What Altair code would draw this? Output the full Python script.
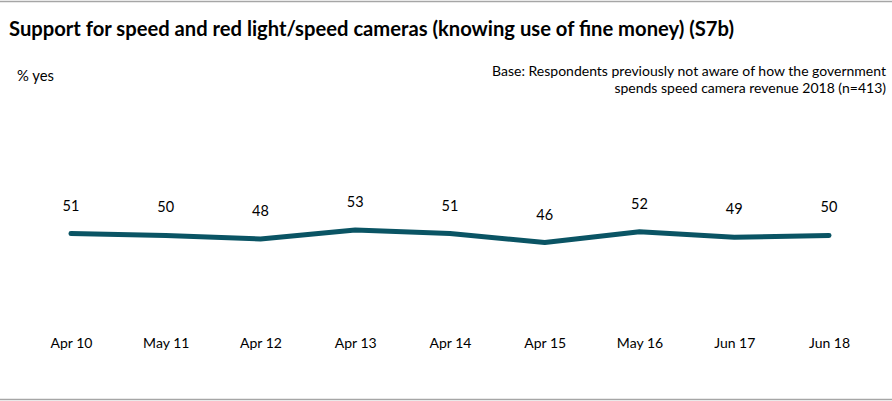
import altair as alt
import pandas as pd

periods = ["Apr 10", "May 11", "Apr 12", "Apr 13", "Apr 14", "Apr 15", "May 16", "Jun 17", "Jun 18"]
values = [51, 50, 48, 53, 51, 46, 52, 49, 50]
title_text = "Support for speed and red light/speed cameras (knowing use of fine money) (S7b)"
y_label = "% yes"
base_lines = [
    "Base: Respondents previously not aware of how the government",
    "spends speed camera revenue 2018 (n=413)",
]

FONT = "Lato"
LINE_COLOR = "#0a5464"
RULE_COLOR = "#a6a6a6"

df = pd.DataFrame({"period": periods, "value": values})

PL, PT = 23.6, 145.4
W, H = 852.8, 180
PR = 892 - PL - W
PB = 401 - PT - H

x_axis = alt.X(
    "period:N", sort=periods,
    scale=alt.Scale(type="point", padding=0.5),
    axis=alt.Axis(title=None, domain=False, ticks=False, labelAngle=0, labelFont=FONT,
                  labelFontSize=14, labelColor="#000000", labelPadding=18, grid=False,
                  labelBaseline="middle"),
)
y_enc = alt.Y("value:Q", scale=alt.Scale(domain=[0, 100]), axis=None)

base = alt.Chart(df)
line = base.mark_line(color=LINE_COLOR, strokeWidth=5, strokeCap="round", strokeJoin="round").encode(
    x=x_axis, y=y_enc)
labels = base.mark_text(dy=-27, font=FONT, fontSize=14.5, color="#000000", baseline="middle").encode(
    x=x_axis, y=y_enc, text="value:Q")

one = pd.DataFrame({"k": [0]})


def txt(s, xpx, ypx, **kw):
    return alt.Chart(one).mark_text(font=FONT, baseline="middle", color="#000000", **kw).encode(
        x=alt.value(xpx - PL), y=alt.value(ypx - PT), text=alt.value(s))


def hrule(ypx):
    return alt.Chart(one).mark_rule(color=RULE_COLOR, strokeWidth=1.5).encode(
        x=alt.value(-PL), x2=alt.value(892 - PL), y=alt.value(ypx - PT))


layers = [
    hrule(1.5),
    hrule(399.5),
    txt(title_text, 9, 30, align="left", fontSize=20.2, fontWeight="bold"),
    txt(y_label, 17, 77, align="left", fontSize=14.8),
    txt(base_lines[0], 886, 72.5, align="right", fontSize=14),
    txt(base_lines[1], 886, 89.5, align="right", fontSize=14),
    line,
    labels,
]

chart = alt.layer(*layers).properties(
    width=W, height=H,
    padding={"left": PL, "top": PT, "right": PR, "bottom": PB},
    autosize=alt.AutoSizeParams(type="none"),
    background="white",
).configure_view(stroke=None)

chart.save("out.html", embed_options={"renderer": "svg", "actions": False})
